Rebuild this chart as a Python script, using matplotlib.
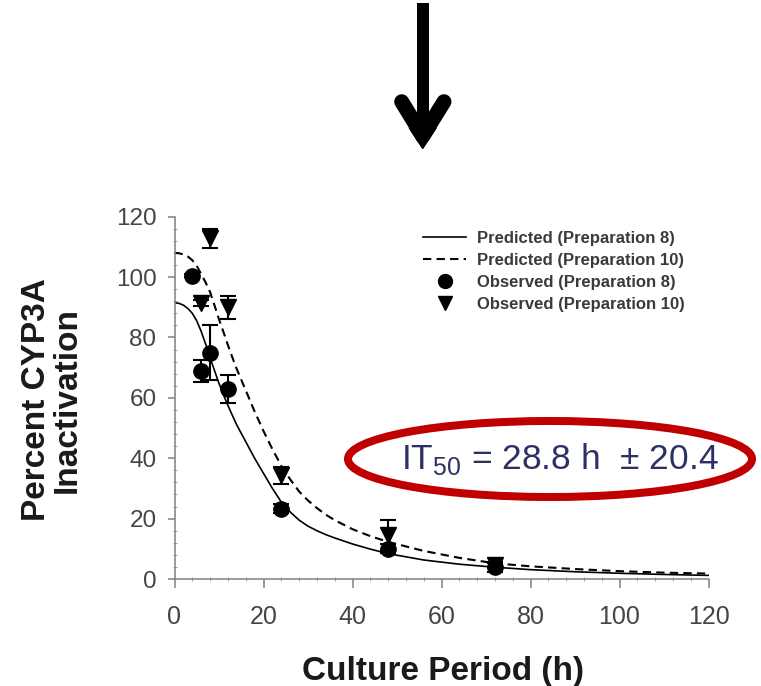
import matplotlib.pyplot as plt
from matplotlib.patches import Ellipse, Polygon
from matplotlib.ticker import MultipleLocator
from matplotlib.lines import Line2D

plt.rcParams['font.family'] = ['Liberation Sans', 'DejaVu Sans']

# predicted curves
pred_x8 = [0, 1, 2, 3, 4, 5, 6, 7, 8, 9, 10, 11, 12, 13, 14, 16, 18, 20, 22, 24, 26, 28, 30, 32, 34, 36,
           40, 44, 48, 56, 64, 72, 80, 90, 100, 110, 120]
pred_y8 = [91.5, 91.3, 90.7, 89.6, 88, 85.5, 82, 77.8, 73.3, 69, 64.8, 61, 57.5, 54.2, 51, 45.5, 40, 35, 30,
           25.5, 22.2, 19.5, 17.5, 16, 14.7, 13.6, 11.6, 9.9, 8.4, 6.3, 4.9, 3.9, 3.1, 2.4, 1.9, 1.5, 1.2]
pred_x10 = [0, 1, 2, 3, 4, 5, 6, 7, 8, 9, 10, 11, 12, 13, 14, 16, 18, 20, 22, 24, 26, 28, 30, 32, 34, 36,
            40, 44, 48, 56, 64, 72, 80, 90, 100, 110, 120]
pred_y10 = [108, 107.9, 107.5, 106.8, 105.6, 103.7, 101, 98.2, 95, 90.6, 86, 81.8, 77.5, 73.4, 69.5, 62.5,
            55.5, 49, 43, 37.5, 33, 29, 26, 23.5, 21.3, 19.5, 16.5, 14.2, 12.3, 9.3, 7, 5.2, 4.2, 3.3, 2.6,
            2.1, 1.8]

# observed points
obs_x8 = [4, 6, 8, 12, 24, 48, 72]
obs_y8 = [100.5, 69, 75, 63, 23.3, 10, 3.9]
obs_e8 = [0.5, 3.6, 9, 4.7, 1.5, 1.5, 1.5]
obs_x10 = [6, 8, 12, 24, 48, 72]
obs_y10 = [91.3, 112.8, 90, 34.4, 14.5, 4.5]
obs_e10 = [1, 3.1, 3.9, 2.8, 5, 1]

legend_labels = ['Predicted (Preparation 8)', 'Predicted (Preparation 10)',
                 'Observed (Preparation 8)', 'Observed (Preparation 10)']

W, H = 761, 686
fig = plt.figure(figsize=(W / 100, H / 100), dpi=100)

# main axes, placed in pixels
x0, x1, y0, y1 = 174.5, 708.5, 579, 216.7
ax = fig.add_axes([x0 / W, 1 - y0 / H, (x1 - x0) / W, (y0 - y1) / H])
ax.set_xlim(0, 120)
ax.set_ylim(0, 120)

dash = (0, (4, 2.5))
ax.plot(pred_x8, pred_y8, color='black', lw=1.2)
ax.plot(pred_x10, pred_y10, color='black', lw=1.5, linestyle=dash)
ax.errorbar(obs_x8, obs_y8, yerr=obs_e8, fmt='none', ecolor='black', elinewidth=1.5, capsize=5.5, capthick=1.5)
ax.errorbar(obs_x10, obs_y10, yerr=obs_e10, fmt='none', ecolor='black', elinewidth=1.5, capsize=5.5, capthick=1.5)
ax.plot(obs_x8, obs_y8, linestyle='none', marker='o', ms=11, color='black')
ax.plot(obs_x10, obs_y10, linestyle='none', marker='v', ms=11, color='black')

for s in ['top', 'right']:
    ax.spines[s].set_visible(False)
for s in ['left', 'bottom']:
    ax.spines[s].set_color('#808080')
    ax.spines[s].set_linewidth(1.1)

ax.xaxis.set_major_locator(MultipleLocator(20))
ax.yaxis.set_major_locator(MultipleLocator(20))
ax.xaxis.set_minor_locator(MultipleLocator(4))
ax.yaxis.set_minor_locator(MultipleLocator(4))
ax.tick_params(axis='x', which='major', length=6.5, width=1.1, color='#808080', labelsize=18, labelcolor='#454545', pad=12)
ax.tick_params(axis='y', which='major', length=5, width=1.1, color='#808080', labelsize=17.5, labelcolor='#454545', pad=8)
ax.tick_params(which='minor', direction='inout', length=3, width=0.7, color='#a0a0a0')

handles = [
    Line2D([], [], color='black', lw=1.2),
    Line2D([], [], color='black', lw=1.5, linestyle=dash),
    Line2D([], [], linestyle='none', marker='o', ms=10, color='black'),
    Line2D([], [], linestyle='none', marker='v', ms=10, color='black'),
]
leg = ax.legend(handles, legend_labels, loc='upper left', bbox_to_anchor=(423 / W, 1 - 231 / H),
                bbox_transform=fig.transFigure, frameon=False, borderpad=0, borderaxespad=0,
                handlelength=2.6, handletextpad=0.65, labelspacing=0.42,
                prop={'size': 12, 'weight': 'bold'})
for t in leg.get_texts():
    t.set_color('#3a3a3a')

# overlay in pixel coordinates for annotations
ov = fig.add_axes([0, 0, 1, 1])
ov.set_xlim(0, W)
ov.set_ylim(H, 0)
ov.axis('off')
ov.patch.set_alpha(0)

# arrow at the top
ov.plot([423.3, 423.3], [3, 138], color='black', lw=12 * 0.72, solid_capstyle='butt')
ov.plot([401.7, 422.7], [101.7, 136], color='black', lw=15 * 0.72, solid_capstyle='round')
ov.plot([444, 422.7], [101.7, 136], color='black', lw=15 * 0.72, solid_capstyle='round')
ov.add_patch(Polygon([(409.3, 128), (436.1, 128), (422.7, 148.5)], closed=True, color='black'))

# IT50 annotation
ov.add_patch(Ellipse((550, 459), 404, 76, fill=False, ec='#c00000', lw=8 * 0.72))
ov.text(560, 459, r'IT$_{\mathregular{50}}$ = 28.8 h  ± 20.4', fontsize=25.5, color='#2d3064',
        ha='center', va='center')

# axis titles
ov.text(52, 400, 'Percent CYP3A\nInactivation', rotation=90, ha='center', va='center',
        fontsize=24, fontweight='bold', linespacing=1.0, multialignment='center', color='#1a1a1a')
ov.text(443, 680, 'Culture Period (h)', ha='center', va='baseline', fontsize=24,
        fontweight='bold', color='#1a1a1a')

fig.savefig('out.png', dpi=100)
